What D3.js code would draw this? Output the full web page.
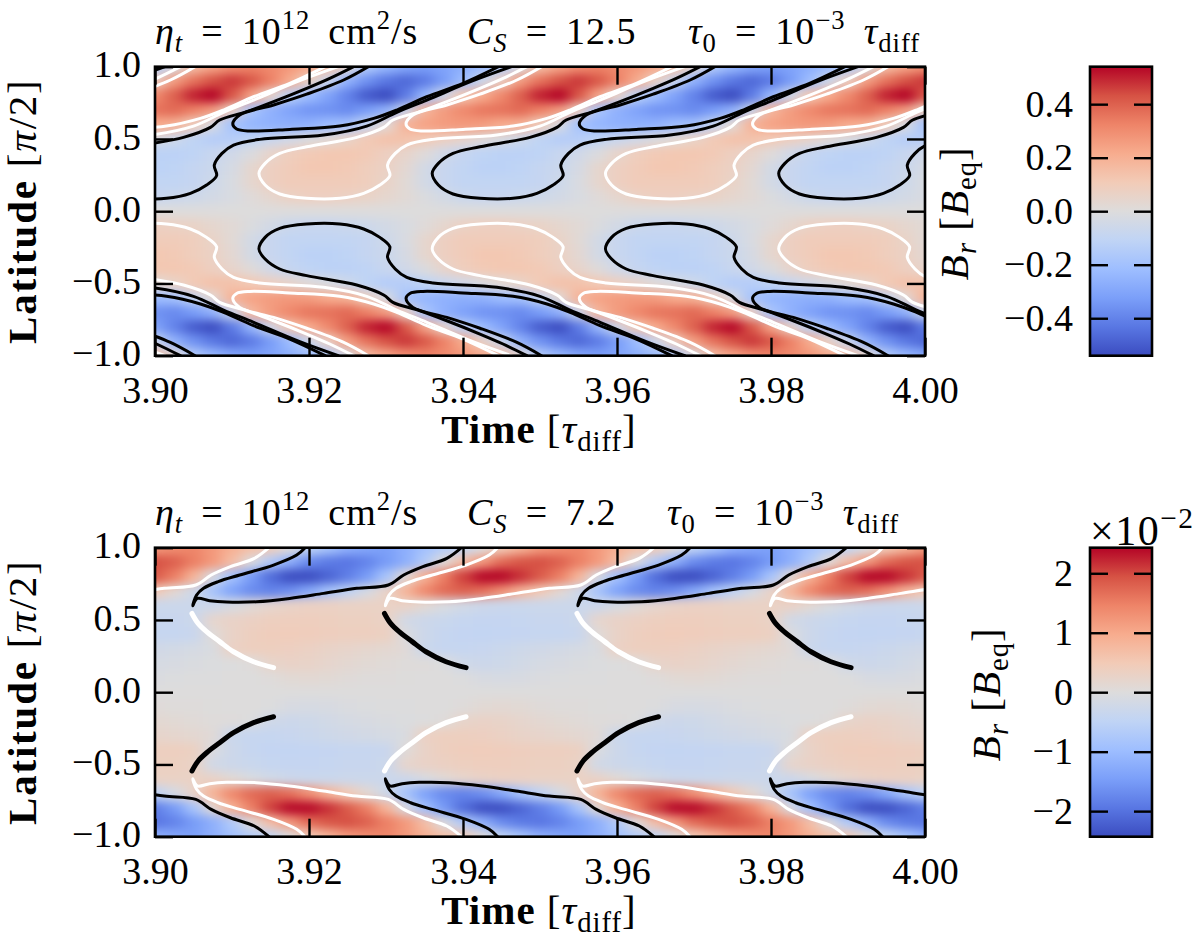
<!DOCTYPE html>
<html>
<head>
<meta charset="utf-8">
<script src="https://cdn.jsdelivr.net/npm/d3@7"></script>
<style>
body { margin: 0; background: #fff; }
text { font-family: "Liberation Serif", serif; fill: #000; }
</style>
</head>
<body>
<div id="chart"></div>
<script>
// grid axes
const gridTimes = d3.range(41).map(i => 3.9 + i * 0.0025);
const gridLats = [1, 0.9, 0.8, 0.7, 0.6, 0.5, 0.4, 0.3, 0.2, 0.1, 0, -0.1, -0.2, -0.3, -0.4, -0.5, -0.6, -0.7, -0.8, -0.9, -1];

// top panel, B_r in hundredths of B_eq, one row per latitude
const topField = [
[-15,-2,16,24,30,33,31,27,22,15,2,-16,-24,-30,-33,-31,-27,-22,-15,-2,16,24,30,33,31,27,22,15,2,-16,-24,-30,-33,-31,-27,-22,-15,-2,16,24,30],
[8,26,36,43,47,42,33,22,6,-8,-26,-36,-43,-47,-42,-33,-22,-6,8,26,36,43,47,42,33,22,6,-8,-26,-36,-43,-47,-42,-33,-22,-6,8,26,36,43,47],
[31,40,50,54,42,24,5,-12,-22,-31,-40,-50,-54,-42,-24,-5,12,22,31,40,50,54,42,24,5,-12,-22,-31,-40,-50,-54,-42,-24,-5,12,22,31,40,50,54,42],
[36,38,33,26,7,-18,-26,-31,-35,-36,-38,-33,-26,-7,18,26,31,35,36,38,33,26,7,-18,-26,-31,-35,-36,-38,-33,-26,-7,18,26,31,35,36,38,33,26,7],
[22,20,9,-2,-19,-24,-26,-27,-26,-22,-20,-9,2,19,24,26,27,26,22,20,9,-2,-19,-24,-26,-27,-26,-22,-20,-9,2,19,24,26,27,26,22,20,9,-2,-19],
[-2,-6,-11,-14,-14,-11,-8,-5,-1,2,6,11,14,14,11,8,5,1,-2,-6,-11,-14,-14,-11,-8,-5,-1,2,6,11,14,14,11,8,5,1,-2,-6,-11,-14,-14],
[-12,-12,-11,-8,-5,-1,5,9,11,12,12,11,8,5,1,-5,-9,-11,-12,-12,-11,-8,-5,-1,5,9,11,12,12,11,8,5,1,-5,-9,-11,-12,-12,-11,-8,-5],
[-12,-11,-9,-7,-3,4,8,10,12,12,11,9,7,3,-4,-8,-10,-12,-12,-11,-9,-7,-3,4,8,10,12,12,11,9,7,3,-4,-8,-10,-12,-12,-11,-9,-7,-3],
[-10,-10,-9,-6,-2,4,8,10,10,10,10,9,6,2,-4,-8,-10,-10,-10,-10,-9,-6,-2,4,8,10,10,10,10,9,6,2,-4,-8,-10,-10,-10,-10,-9,-6,-2],
[-8,-7,-6,-4,-2,1,4,7,8,8,7,6,4,2,-1,-4,-7,-8,-8,-7,-6,-4,-2,1,4,7,8,8,7,6,4,2,-1,-4,-7,-8,-8,-7,-6,-4,-2],
[0,0,0,0,0,0,0,0,0,0,0,0,0,0,0,0,0,0,0,0,0,0,0,0,0,0,0,0,0,0,0,0,0,0,0,0,0,0,0,0,0],
[8,7,6,4,2,-1,-4,-7,-8,-8,-7,-6,-4,-2,1,4,7,8,8,7,6,4,2,-1,-4,-7,-8,-8,-7,-6,-4,-2,1,4,7,8,8,7,6,4,2],
[10,10,9,6,2,-4,-8,-10,-10,-10,-10,-9,-6,-2,4,8,10,10,10,10,9,6,2,-4,-8,-10,-10,-10,-10,-9,-6,-2,4,8,10,10,10,10,9,6,2],
[12,11,9,7,3,-4,-8,-10,-12,-12,-11,-9,-7,-3,4,8,10,12,12,11,9,7,3,-4,-8,-10,-12,-12,-11,-9,-7,-3,4,8,10,12,12,11,9,7,3],
[12,12,11,8,5,1,-5,-9,-11,-12,-12,-11,-8,-5,-1,5,9,11,12,12,11,8,5,1,-5,-9,-11,-12,-12,-11,-8,-5,-1,5,9,11,12,12,11,8,5],
[2,6,11,14,14,11,8,5,1,-2,-6,-11,-14,-14,-11,-8,-5,-1,2,6,11,14,14,11,8,5,1,-2,-6,-11,-14,-14,-11,-8,-5,-1,2,6,11,14,14],
[-22,-20,-9,2,19,24,26,27,26,22,20,9,-2,-19,-24,-26,-27,-26,-22,-20,-9,2,19,24,26,27,26,22,20,9,-2,-19,-24,-26,-27,-26,-22,-20,-9,2,19],
[-36,-38,-33,-26,-7,18,26,31,35,36,38,33,26,7,-18,-26,-31,-35,-36,-38,-33,-26,-7,18,26,31,35,36,38,33,26,7,-18,-26,-31,-35,-36,-38,-33,-26,-7],
[-31,-40,-50,-54,-42,-24,-5,12,22,31,40,50,54,42,24,5,-12,-22,-31,-40,-50,-54,-42,-24,-5,12,22,31,40,50,54,42,24,5,-12,-22,-31,-40,-50,-54,-42],
[-8,-26,-36,-43,-47,-42,-33,-22,-6,8,26,36,43,47,42,33,22,6,-8,-26,-36,-43,-47,-42,-33,-22,-6,8,26,36,43,47,42,33,22,6,-8,-26,-36,-43,-47],
[15,2,-16,-24,-30,-33,-31,-27,-22,-15,-2,16,24,30,33,31,27,22,15,2,-16,-24,-30,-33,-31,-27,-22,-15,-2,16,24,30,33,31,27,22,15,2,-16,-24,-30]
];

// bottom panel, B_r in units of 1e-4 B_eq
const bottomField = [
[120,135,145,120,90,65,45,0,-50,-85,-120,-135,-145,-120,-90,-65,-45,0,50,85,120,135,145,120,90,65,45,0,-50,-85,-120,-135,-145,-120,-90,-65,-45,0,50,85,120],
[195,180,150,120,70,-5,-70,-120,-170,-190,-195,-180,-150,-120,-70,5,70,120,170,190,195,180,150,120,70,-5,-70,-120,-170,-190,-195,-180,-150,-120,-70,5,70,120,170,190,195],
[185,150,85,-10,-90,-150,-205,-240,-240,-215,-185,-150,-85,10,90,150,205,240,240,215,185,150,85,-10,-90,-150,-205,-240,-240,-215,-185,-150,-85,10,90,150,205,240,240,215,185],
[50,15,-25,-85,-140,-170,-180,-165,-130,-85,-50,-15,25,85,140,170,180,165,130,85,50,15,-25,-85,-140,-170,-180,-165,-130,-85,-50,-15,25,85,140,170,180,165,130,85,50],
[-30,-30,-30,-28,-10,8,20,28,32,32,30,30,30,28,10,-8,-20,-28,-32,-32,-30,-30,-30,-28,-10,8,20,28,32,32,30,30,30,28,10,-8,-20,-28,-32,-32,-30],
[-35,-35,-30,20,28,33,38,40,40,38,35,35,30,-20,-28,-33,-38,-40,-40,-38,-35,-35,-30,20,28,33,38,40,40,38,35,35,30,-20,-28,-33,-38,-40,-40,-38,-35],
[-38,-38,-35,5,28,38,42,43,42,40,38,38,35,-5,-28,-38,-42,-43,-42,-40,-38,-38,-35,5,28,38,42,43,42,40,38,38,35,-5,-28,-38,-42,-43,-42,-40,-38],
[-22,-18,-14,-8,32,38,38,36,32,26,22,18,14,8,-32,-38,-38,-36,-32,-26,-22,-18,-14,-8,32,38,38,36,32,26,22,18,14,8,-32,-38,-38,-36,-32,-26,-22],
[-14,-10,-6,-3,-2,2,24,28,26,20,14,10,6,3,2,-2,-24,-28,-26,-20,-14,-10,-6,-3,-2,2,24,28,26,20,14,10,6,3,2,-2,-24,-28,-26,-20,-14],
[-5,-3,-2,-1,0,0,2,10,12,10,5,3,2,1,0,0,-2,-10,-12,-10,-5,-3,-2,-1,0,0,2,10,12,10,5,3,2,1,0,0,-2,-10,-12,-10,-5],
[0,0,0,0,0,0,0,0,0,0,0,0,0,0,0,0,0,0,0,0,0,0,0,0,0,0,0,0,0,0,0,0,0,0,0,0,0,0,0,0,0],
[5,3,2,1,0,0,-2,-10,-12,-10,-5,-3,-2,-1,0,0,2,10,12,10,5,3,2,1,0,0,-2,-10,-12,-10,-5,-3,-2,-1,0,0,2,10,12,10,5],
[14,10,6,3,2,-2,-24,-28,-26,-20,-14,-10,-6,-3,-2,2,24,28,26,20,14,10,6,3,2,-2,-24,-28,-26,-20,-14,-10,-6,-3,-2,2,24,28,26,20,14],
[22,18,14,8,-32,-38,-38,-36,-32,-26,-22,-18,-14,-8,32,38,38,36,32,26,22,18,14,8,-32,-38,-38,-36,-32,-26,-22,-18,-14,-8,32,38,38,36,32,26,22],
[38,38,35,-5,-28,-38,-42,-43,-42,-40,-38,-38,-35,5,28,38,42,43,42,40,38,38,35,-5,-28,-38,-42,-43,-42,-40,-38,-38,-35,5,28,38,42,43,42,40,38],
[35,35,30,-20,-28,-33,-38,-40,-40,-38,-35,-35,-30,20,28,33,38,40,40,38,35,35,30,-20,-28,-33,-38,-40,-40,-38,-35,-35,-30,20,28,33,38,40,40,38,35],
[30,30,30,28,10,-8,-20,-28,-32,-32,-30,-30,-30,-28,-10,8,20,28,32,32,30,30,30,28,10,-8,-20,-28,-32,-32,-30,-30,-30,-28,-10,8,20,28,32,32,30],
[-50,-15,25,85,140,170,180,165,130,85,50,15,-25,-85,-140,-170,-180,-165,-130,-85,-50,-15,25,85,140,170,180,165,130,85,50,15,-25,-85,-140,-170,-180,-165,-130,-85,-50],
[-185,-150,-85,10,90,150,205,240,240,215,185,150,85,-10,-90,-150,-205,-240,-240,-215,-185,-150,-85,10,90,150,205,240,240,215,185,150,85,-10,-90,-150,-205,-240,-240,-215,-185],
[-195,-180,-150,-120,-70,5,70,120,170,190,195,180,150,120,70,-5,-70,-120,-170,-190,-195,-180,-150,-120,-70,5,70,120,170,190,195,180,150,120,70,-5,-70,-120,-170,-190,-195],
[-120,-135,-145,-120,-90,-65,-45,0,50,85,120,135,145,120,90,65,45,0,-50,-85,-120,-135,-145,-120,-90,-65,-45,0,50,85,120,135,145,120,90,65,45,0,-50,-85,-120]
];

// contours: a latitude list and the times of each line
const topInnerLat = [1,.908,.81,.735,.666,.603,.569,.555,.566,.589,.642,.7,.792,.885,1];
const topInnerTimes = [
[3.9052,3.902,3.8972,3.8929,3.8885,3.8876,3.8881,3.8898,3.895,3.9015,3.9059,3.9089,3.9128,3.9175,3.9221],
[3.9277,3.9245,3.9197,3.9154,3.911,3.9101,3.9106,3.9123,3.9175,3.924,3.9284,3.9314,3.9353,3.94,3.9446],
[3.9502,3.947,3.9422,3.9379,3.9335,3.9326,3.9331,3.9348,3.94,3.9465,3.9509,3.9539,3.9578,3.9625,3.9671],
[3.9727,3.9695,3.9647,3.9604,3.956,3.9551,3.9556,3.9573,3.9625,3.969,3.9734,3.9764,3.9803,3.985,3.9896],
[3.9952,3.992,3.9872,3.9829,3.9785,3.9776,3.9781,3.9798,3.985,3.9915,3.9959,3.9989,4.0028,4.0075,4.0121]
];
const topInnerNorthColors = ["#fff", "#000", "#fff", "#000", "#fff"];

const topOuterLat = [1,.919,.85,.758,.689,.631,.58,.511,.446,.4,.331,.262,.181,.119,.089,.089,.123,.181,.246,.319,.4,.458,.497,.527,.589,.684,.769,.903,1];
const topOuterTimes = [
[3.8808,3.8777,3.8747,3.8704,3.8669,3.8634,3.8622,3.8587,3.8522,3.8487,3.8468,3.846,3.8468,3.8487,3.8522,3.8565,3.8596,3.8617,3.863,3.8627,3.8637,3.8652,3.8686,3.8769,3.8825,3.8864,3.8903,3.8963,3.9013],
[3.9033,3.9002,3.8972,3.8929,3.8894,3.8859,3.8847,3.8812,3.8747,3.8712,3.8693,3.8685,3.8693,3.8712,3.8747,3.879,3.8821,3.8842,3.8855,3.8852,3.8862,3.8877,3.8911,3.8994,3.905,3.9089,3.9128,3.9188,3.9238],
[3.9258,3.9227,3.9197,3.9154,3.9119,3.9084,3.9072,3.9037,3.8972,3.8937,3.8918,3.891,3.8918,3.8937,3.8972,3.9015,3.9046,3.9067,3.908,3.9077,3.9087,3.9102,3.9136,3.9219,3.9275,3.9314,3.9353,3.9413,3.9463],
[3.9483,3.9452,3.9422,3.9379,3.9344,3.9309,3.9297,3.9262,3.9197,3.9162,3.9143,3.9135,3.9143,3.9162,3.9197,3.924,3.9271,3.9292,3.9305,3.9302,3.9312,3.9327,3.9361,3.9444,3.95,3.9539,3.9578,3.9638,3.9688],
[3.9708,3.9677,3.9647,3.9604,3.9569,3.9534,3.9522,3.9487,3.9422,3.9387,3.9368,3.936,3.9368,3.9387,3.9422,3.9465,3.9496,3.9517,3.953,3.9527,3.9537,3.9552,3.9586,3.9669,3.9725,3.9764,3.9803,3.9863,3.9913],
[3.9933,3.9902,3.9872,3.9829,3.9794,3.9759,3.9747,3.9712,3.9647,3.9612,3.9593,3.9585,3.9593,3.9612,3.9647,3.969,3.9721,3.9742,3.9755,3.9752,3.9762,3.9777,3.9811,3.9894,3.995,3.9989,4.0028,4.0088,4.0138],
[4.0158,4.0127,4.0097,4.0054,4.0019,3.9984,3.9972,3.9937,3.9872,3.9837,3.9818,3.981,3.9818,3.9837,3.9872,3.9915,3.9946,3.9967,3.998,3.9977,3.9987,4.0002,4.0036,4.0119,4.0175,4.0214,4.0253,4.0313,4.0363]
];
const topOuterNorthColors = ["#000", "#fff", "#000", "#fff", "#000", "#fff", "#000"];

const bottomBandLat = [1,.949,.88,.811,.765,.719,.672,.599,.649,.633,.624,.626,.649,.684,.719,.742,.811,.869,.926,1];
const bottomBandTimes = [
[3.8945,3.8934,3.8904,3.886,3.8832,3.8813,3.8804,3.8799,3.8805,3.8821,3.8843,3.8882,3.8925,3.8969,3.9012,3.9053,3.9073,3.9098,3.9129,3.9148],
[3.9195,3.9184,3.9154,3.911,3.9082,3.9063,3.9054,3.9049,3.9055,3.9071,3.9093,3.9132,3.9175,3.9219,3.9262,3.9303,3.9323,3.9348,3.9379,3.9398],
[3.9445,3.9434,3.9404,3.936,3.9332,3.9313,3.9304,3.9299,3.9305,3.9321,3.9343,3.9382,3.9425,3.9469,3.9512,3.9553,3.9573,3.9598,3.9629,3.9648],
[3.9695,3.9684,3.9654,3.961,3.9582,3.9563,3.9554,3.9549,3.9555,3.9571,3.9593,3.9632,3.9675,3.9719,3.9762,3.9803,3.9823,3.9848,3.9879,3.9898],
[3.9945,3.9934,3.9904,3.986,3.9832,3.9813,3.9804,3.9799,3.9805,3.9821,3.9843,3.9882,3.9925,3.9969,4.0012,4.0053,4.0073,4.0098,4.0129,4.0148]
];
const bottomBandNorthColors = ["#fff", "#000", "#fff", "#000", "#fff"];

// the thick arcs that leave each cusp towards the equator
const bottomArcLat = [.545,.476,.419,.35,.28,.211,.17];
const bottomArcTimes = [
[3.9048,3.9056,3.9067,3.9084,3.9102,3.9128,3.9154],
[3.9298,3.9306,3.9317,3.9334,3.9352,3.9378,3.9404],
[3.9548,3.9556,3.9567,3.9584,3.9602,3.9628,3.9654],
[3.9798,3.9806,3.9817,3.9834,3.9852,3.9878,3.9904]
];
const bottomArcNorthColors = ["#fff", "#000", "#fff", "#000"];

// ticks
const timeTicks = [3.90, 3.92, 3.94, 3.96, 3.98, 4.00];
const latTicks = [-1, -0.5, 0, 0.5, 1];
const topBarTicks = [-0.4, -0.2, 0, 0.2, 0.4];
const bottomBarTicks = [-2, -1, 0, 1, 2];
const topBarMax = 0.54;
const bottomBarMax = 2.43;

// coolwarm
const coolwarm = ["#3b4cc0","#5977e3","#7b9ff9","#9ebeff","#c0d4f5","#dddcdc","#f2cbb7","#f7ac8e","#ee8468","#d65244","#b40426"];

const W = 1200, H = 939;
const axLeft = 155, axRight = 925, axH = 289;
const barLeft = 1090, barRight = 1152;
const tickLen = 18;
const FONT = 38, LABEL = 41;

const svg = d3.select("#chart").append("svg")
    .attr("width", W).attr("height", H)
    .style("display", "block");

const defs = svg.append("defs");
const blur = defs.append("filter").attr("id", "smooth")
    .attr("filterUnits", "userSpaceOnUse")
    .attr("x", 0).attr("y", 0).attr("width", W).attr("height", H)
    .attr("color-interpolation-filters", "sRGB");
blur.append("feGaussianBlur").attr("stdDeviation", "7 5");

const grad = defs.append("linearGradient").attr("id", "barGrad")
    .attr("x1", 0).attr("y1", 1).attr("x2", 0).attr("y2", 0);
coolwarm.forEach((c, i) => {
    grad.append("stop").attr("offset", i / (coolwarm.length - 1)).attr("stop-color", c);
});

// writes text with italics, subscripts and superscripts
function mathText(sel, pieces, size) {
    var shift = 0;
    pieces.forEach(function (p) {
        var target = p.s == "sub" ? size * 0.2 : p.s == "sup" ? -size * 0.4 : 0;
        sel.append("tspan")
            .attr("dy", target - shift)
            .attr("font-size", p.s ? size * 0.7 : size)
            .attr("font-style", p.i ? "italic" : "normal")
            .attr("font-weight", p.b ? "bold" : "normal")
            .text(p.t);
        shift = target;
    });
    return sel;
}

function contourLine(g, x, y, times, lats, color, width) {
    const line = d3.line().x(d => x(d[0])).y(d => y(d[1])).curve(d3.curveCatmullRom.alpha(0.5));
    g.append("path")
        .attr("d", line(d3.zip(times, lats)))
        .attr("fill", "none")
        .attr("stroke", color)
        .attr("stroke-width", width)
        .attr("stroke-linecap", "round")
        .attr("stroke-linejoin", "round");
}

const flip = c => c == "#fff" ? "#000" : "#fff";

// one heat map with its frame and ticks
function drawPanel(top, id, field, barMax, drawLines) {
    const x = d3.scaleLinear().domain([3.9, 4.0]).range([axLeft, axRight]);
    const y = d3.scaleLinear().domain([-1, 1]).range([top + axH, top]);
    const color = d3.scaleLinear()
        .domain(coolwarm.map((c, i) => -barMax + 2 * barMax * i / (coolwarm.length - 1)))
        .range(coolwarm).clamp(true);

    defs.append("clipPath").attr("id", "clip" + id).append("rect")
        .attr("x", axLeft).attr("y", top).attr("width", axRight - axLeft).attr("height", axH);

    const g = svg.append("g").attr("clip-path", "url(#clip" + id + ")");
    const cells = [];
    field.forEach((row, r) => row.forEach((v, c) => cells.push({ r: r, c: c, v: v / 100 })));

    const dt = 0.00125, dl = 0.05, pad = 40;
    g.append("g").attr("filter", "url(#smooth)")
        .selectAll("rect").data(cells).join("rect")
        .attr("shape-rendering", "crispEdges")
        .attr("x", d => x(gridTimes[d.c] - dt) - (d.c == 0 ? pad : 0))
        .attr("width", d => x(gridTimes[d.c] + dt) - x(gridTimes[d.c] - dt) + (d.c == 0 || d.c == 40 ? pad : 0))
        .attr("y", d => y(gridLats[d.r] + dl) - (d.r == 0 ? pad : 0))
        .attr("height", d => y(gridLats[d.r] - dl) - y(gridLats[d.r] + dl) + (d.r == 0 || d.r == 20 ? pad : 0))
        .attr("fill", d => color(d.v));

    drawLines(g, x, y);

    // ticks inward on all four sides
    const axes = svg.append("g");
    const bottomAxis = axes.append("g").attr("transform", "translate(0," + (top + axH) + ")")
        .call(d3.axisBottom(x).tickValues(timeTicks).tickFormat(d3.format(".2f")).tickSizeInner(-tickLen).tickSizeOuter(0).tickPadding(36));
    axes.append("g").attr("transform", "translate(0," + top + ")")
        .call(d3.axisTop(x).tickValues(timeTicks).tickFormat("").tickSizeInner(-tickLen).tickSizeOuter(0));
    const leftAxis = axes.append("g").attr("transform", "translate(" + axLeft + ",0)")
        .call(d3.axisLeft(y).tickValues(latTicks).tickFormat(d3.format(".1f")).tickSizeInner(-tickLen).tickSizeOuter(0).tickPadding(14));
    axes.append("g").attr("transform", "translate(" + axRight + ",0)")
        .call(d3.axisRight(y).tickValues(latTicks).tickFormat("").tickSizeInner(-tickLen).tickSizeOuter(0));
    axes.selectAll(".domain").remove();
    axes.selectAll("line").attr("stroke", "#000").attr("stroke-width", 2.4);
    axes.selectAll("text").attr("font-size", FONT).attr("font-family", "Liberation Serif");
    bottomAxis.selectAll("text").attr("dy", "0.3em");
    leftAxis.selectAll("text").attr("dy", "0.27em");

    svg.append("rect").attr("x", axLeft).attr("y", top)
        .attr("width", axRight - axLeft).attr("height", axH)
        .attr("fill", "none").attr("stroke", "#000").attr("stroke-width", 2.6);

    // axis titles
    mathText(svg.append("text").attr("x", 539).attr("y", top + axH + 87).attr("text-anchor", "middle").attr("letter-spacing", 1),
        [{ t: "Time", b: 1 }, { t: " [" }, { t: "τ", i: 1 }, { t: "diff", s: "sub" }, { t: "]" }], LABEL);
    mathText(svg.append("text").attr("transform", "translate(36," + (top + axH / 2) + ") rotate(-90)").attr("text-anchor", "middle").attr("letter-spacing", 1.8),
        [{ t: "Latitude", b: 1 }, { t: " [" }, { t: "π", i: 1 }, { t: "/2]" }], LABEL);
}

function drawBar(top, id, barMax, ticks, fmt, labelX) {
    const y = d3.scaleLinear().domain([-barMax, barMax]).range([top + axH, top]);
    svg.append("rect").attr("x", barLeft).attr("y", top)
        .attr("width", barRight - barLeft).attr("height", axH)
        .attr("fill", "url(#barGrad)");
    const axes = svg.append("g");
    axes.append("g").attr("transform", "translate(" + barLeft + ",0)")
        .call(d3.axisLeft(y).tickValues(ticks).tickFormat(fmt).tickSizeInner(-tickLen).tickSizeOuter(0).tickPadding(17));
    axes.append("g").attr("transform", "translate(" + barRight + ",0)")
        .call(d3.axisRight(y).tickValues(ticks).tickFormat("").tickSizeInner(-tickLen).tickSizeOuter(0));
    axes.selectAll(".domain").remove();
    axes.selectAll("line").attr("stroke", "#000").attr("stroke-width", 2.4);
    axes.selectAll("text").attr("font-size", FONT).attr("font-family", "Liberation Serif");
    svg.append("rect").attr("x", barLeft).attr("y", top)
        .attr("width", barRight - barLeft).attr("height", axH)
        .attr("fill", "none").attr("stroke", "#000").attr("stroke-width", 2.6);
    mathText(svg.append("text").attr("transform", "translate(" + labelX + "," + (top + axH / 2 + 2) + ") rotate(-90)").attr("text-anchor", "middle").attr("letter-spacing", 1),
        [{ t: "B", i: 1 }, { t: "r", i: 1, s: "sub" }, { t: " [" }, { t: "B", i: 1 }, { t: "eq", s: "sub" }, { t: "]" }], LABEL);
}

function title(y, pieces) {
    pieces.forEach(function (p) {
        mathText(svg.append("text").attr("x", p.x).attr("y", y)
            .attr("letter-spacing", 1).attr("word-spacing", 7.5), p.parts, FONT);
    });
}

drawPanel(66.7, "top", topField, topBarMax, function (g, x, y) {
    const south = topInnerLat.map(v => -v), southO = topOuterLat.map(v => -v);
    topOuterTimes.forEach((t, k) => {
        contourLine(g, x, y, t, topOuterLat, topOuterNorthColors[k], 3);
        contourLine(g, x, y, t, southO, flip(topOuterNorthColors[k]), 3);
    });
    topInnerTimes.forEach((t, k) => {
        contourLine(g, x, y, t, topInnerLat, topInnerNorthColors[k], 3);
        contourLine(g, x, y, t, south, flip(topInnerNorthColors[k]), 3);
    });
});

drawPanel(547.7, "bottom", bottomField, bottomBarMax, function (g, x, y) {
    const south = bottomBandLat.map(v => -v), southA = bottomArcLat.map(v => -v);
    bottomBandTimes.forEach((t, k) => {
        contourLine(g, x, y, t, bottomBandLat, bottomBandNorthColors[k], 3);
        contourLine(g, x, y, t, south, flip(bottomBandNorthColors[k]), 3);
    });
    bottomArcTimes.forEach((t, k) => {
        contourLine(g, x, y, t, bottomArcLat, bottomArcNorthColors[k], 5);
        contourLine(g, x, y, t, southA, flip(bottomArcNorthColors[k]), 5);
    });
});

drawBar(66.7, "top", topBarMax, topBarTicks, d3.format(".1f"), 968);
drawBar(547.7, "bottom", bottomBarMax, bottomBarTicks, d3.format("d"), 1000);

const etaParts = [{ t: "η", i: 1 }, { t: "t", i: 1, s: "sub" }, { t: " = 10" }, { t: "12", s: "sup" }, { t: " cm" }, { t: "2", s: "sup" }, { t: "/s" }];
const tauParts = [{ t: "τ", i: 1 }, { t: "0", s: "sub" }, { t: " = 10" }, { t: "−3", s: "sup" }, { t: " " }, { t: "τ", i: 1 }, { t: "diff", s: "sub" }];
title(44, [
    { x: 155, parts: etaParts },
    { x: 467, parts: [{ t: "C", i: 1 }, { t: "S", i: 1, s: "sub" }, { t: " = 12.5" }] },
    { x: 688, parts: tauParts }
]);
title(525, [
    { x: 155, parts: etaParts },
    { x: 467, parts: [{ t: "C", i: 1 }, { t: "S", i: 1, s: "sub" }, { t: " = 7.2" }] },
    { x: 667, parts: tauParts }
]);

// scale factor above the lower colour bar
mathText(svg.append("text").attr("x", 1090).attr("y", 545).attr("letter-spacing", 1.5),
    [{ t: "×10" }, { t: "−2", s: "sup" }], 42);
</script>
</body>
</html>
